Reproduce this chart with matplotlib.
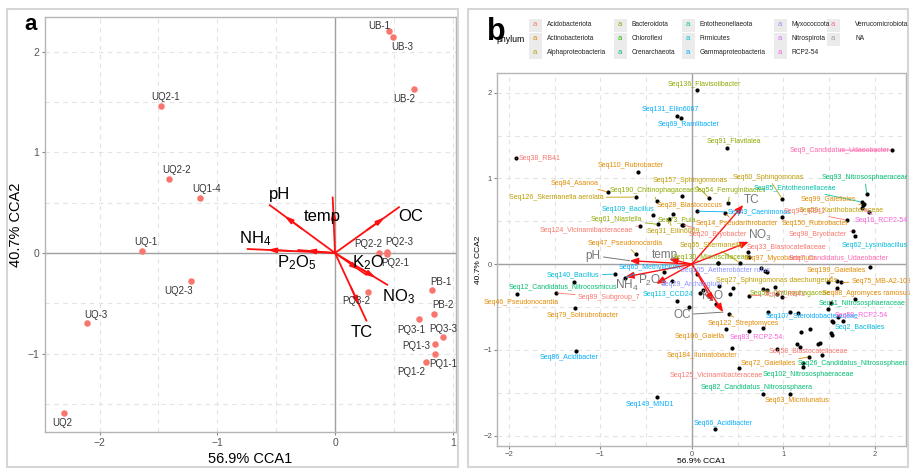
import numpy as np
import matplotlib.pyplot as plt
from matplotlib.patches import Rectangle

plt.rcParams['font.family'] = ['Liberation Sans', 'DejaVu Sans']
plt.rcParams['mathtext.default'] = 'regular'

# panel a: samples in CCA space
# ---
sample_names = ['UB-1', 'UB-3', 'UB-2', 'UQ2-1', 'UQ2-2', 'UQ1-4', 'UQ-1', 'UQ2-3', 'UQ-3', 'UQ2',
                'PQ2-2', 'PQ2-3', 'PQ2-1', 'PQ3-2', 'PB-1', 'PB-2', 'PQ3-1', 'PQ3-3', 'PQ1-3', 'PQ1-1', 'PQ1-2']
sample_x = [0.46, 0.49, 0.67, -1.48, -1.41, -1.15, -1.64, -1.22, -2.11, -2.30,
            0.37, 0.44, 0.44, 0.28, 0.82, 0.84, 0.71, 0.92, 0.85, 0.85, 0.77]
sample_y = [2.20, 2.15, 1.63, 1.46, 0.73, 0.55, 0.02, -0.28, -0.70, -1.59,
            0.00, 0.01, -0.01, -0.39, -0.37, -0.61, -0.66, -0.83, -0.90, -1.00, -1.08]
sample_lab_x = [0.38, 0.57, 0.59, -1.44, -1.35, -1.09, -1.61, -1.33, -2.03, -2.32,
                0.28, 0.55, 0.51, 0.18, 0.90, 0.92, 0.65, 0.92, 0.69, 0.92, 0.65]
sample_lab_y = [2.25, 2.05, 1.53, 1.55, 0.82, 0.64, 0.11, -0.38, -0.62, -1.69,
                0.09, 0.11, -0.10, -0.48, -0.29, -0.52, -0.76, -0.75, -0.92, -1.10, -1.18]

env_names = ['pH', 'temp', 'OC', 'NH$_4$', 'P$_2$O$_5$', 'K$_2$O', 'NO$_3$', 'TC']
env_a_x = [-0.56, -0.02, 0.55, -0.75, -0.32, 0.27, 0.45, 0.27]
env_a_y = [0.48, 0.56, 0.46, 0.04, 0.03, -0.22, -0.32, -0.68]
env_a_lab_x = [-0.47, -0.11, 0.64, -0.68, -0.33, 0.28, 0.54, 0.23]
env_a_lab_y = [0.58, 0.36, 0.36, 0.14, -0.10, -0.10, -0.43, -0.79]

# panel b: sequences (species scores)
# ---
seq_names = ['Seq136_Flavisolibacter', 'Seq131_Ellin6067', 'Seq69_Ramlibacter', 'Seq91_Flavitalea',
             'Seq9_Candidatus_Udaeobacter', 'Seq38_RB41', 'Seq110_Rubrobacter', 'Seq157_Sphingomonas',
             'Seq60_Sphingomonas', 'Seq93_Nitrososphaeraceae', 'Seq84_Asanoa', 'Seq190_Chitinophagaceae',
             'Seq126_Skermanella aerolata', 'Seq54_Ferruginibacter', 'Seq85_Entotheonellaceae', 'Seq99_Gaiellales',
             'Seq28_Blastococcus', 'Seq59_Xanthobacteraceae', 'Seq109_Bacillus', 'Seq43_Caenimonas',
             'Seq73_Puia', 'Seq61_Niastella', 'Seq124_Vicinamibacteraceae', 'Seq31_Ellin6059',
             'Seq20_Bryobacter', 'Seq14_Pseudarthrobacter', 'Seq150_Rubrobacter', 'Seq94_RB41',
             'Seq98_Bryobacter', 'Seq62_Lysinibacillus', 'Seq16_RCP2-54', 'Seq55_Skermanella',
             'Seq33_Blastocatellaceae', 'Seq97_Mycobacterium', 'Seq7_Candidatus_Udaeobacter', 'Seq130_Microscillaceae',
             'Seq105_Aetherobacter rufus', 'Seq29_Archangium', 'Seq113_CCD24', 'Seq27_Sphingomonas daechungensis',
             'Seq199_Gaiellales', 'Seq75_MB-A2-108', 'Seq52_Chitinophagaceae', 'Seq88_Agromyces ramosus',
             'Seq37_RB41', 'Seq11_Nitrososphaeraceae', 'Seq107_Steroidobacteraceae', 'Seq50_RCP2-54',
             'Seq2_Bacillales', 'Seq122_Streptomyces', 'Seq83_RCP2-54', 'Seq106_Gaiella',
             'Seq184_Ilumatobacter', 'Seq58_Blastocatellaceae', 'Seq72_Gaiellales', 'Seq26_Candidatus_Nitrososphaera',
             'Seq125_Vicinamibacteraceae', 'Seq102_Nitrososphaeraceae', 'Seq82_Candidatus_Nitrososphaera', 'Seq63_Microlunatus',
             'Seq66_Acidibacter', 'Seq149_MND1', 'Seq86_Acidibacter', 'Seq79_Solirubrobacter',
             'Seq46_Pseudonocardia', 'Seq89_Subgroup_7', 'Seq12_Candidatus_Nitrocosmicus', 'Seq140_Bacillus',
             'Seq65_Methylibium', 'Seq47_Pseudonocardia']
seq_phylum = ['Bacteroidota', 'Gammaproteobacteria', 'Gammaproteobacteria', 'Bacteroidota',
              'Verrucomicrobiota', 'Acidobacteriota', 'Actinobacteriota', 'Alphaproteobacteria',
              'Alphaproteobacteria', 'Crenarchaeota', 'Actinobacteriota', 'Bacteroidota',
              'Alphaproteobacteria', 'Bacteroidota', 'Entotheonellaeota', 'Actinobacteriota',
              'Actinobacteriota', 'Alphaproteobacteria', 'Firmicutes', 'Gammaproteobacteria',
              'Bacteroidota', 'Bacteroidota', 'Acidobacteriota', 'Alphaproteobacteria',
              'Acidobacteriota', 'Actinobacteriota', 'Actinobacteriota', 'Acidobacteriota',
              'Acidobacteriota', 'Firmicutes', 'RCP2-54', 'Alphaproteobacteria',
              'Acidobacteriota', 'Actinobacteriota', 'Verrucomicrobiota', 'Bacteroidota',
              'Myxococcota', 'Myxococcota', 'Firmicutes', 'Alphaproteobacteria',
              'Actinobacteriota', 'Actinobacteriota', 'Bacteroidota', 'Actinobacteriota',
              'Acidobacteriota', 'Crenarchaeota', 'Gammaproteobacteria', 'RCP2-54',
              'Firmicutes', 'Actinobacteriota', 'RCP2-54', 'Actinobacteriota',
              'Actinobacteriota', 'Acidobacteriota', 'Actinobacteriota', 'Crenarchaeota',
              'Acidobacteriota', 'Crenarchaeota', 'Crenarchaeota', 'Actinobacteriota',
              'Gammaproteobacteria', 'Gammaproteobacteria', 'Gammaproteobacteria', 'Actinobacteriota',
              'Actinobacteriota', 'Acidobacteriota', 'Crenarchaeota', 'Firmicutes',
              'Gammaproteobacteria', 'Actinobacteriota']
seq_x = [0.058, -0.167, -0.120, 0.379, 2.186, -1.923, -0.587, 0.189,
         0.987, 1.909, -0.915, -0.386, -0.615, 0.397, 1.858, 1.869,
         -0.113, 1.938, -0.423, 0.058, -0.204, -0.368, -0.565, -0.253,
         -0.102, 0.361, 0.980, 1.691, 1.756, 1.781, 1.863, 0.525,
         0.615, 0.626, 1.945, 0.287, 0.823, 0.298, -0.167, 0.910,
         1.483, 1.632, 0.816, 1.581, 0.626, 1.516, 0.834, 1.599,
         1.654, 0.404, 0.626, 0.368, 0.440, 0.926, 1.282, 1.210,
         0.517, 1.210, 0.779, 1.071, 0.251, -0.386, -1.268, -1.279,
         -1.916, -1.486, -1.286, -0.842, -0.732, -0.615]
seq_y = [2.027, 1.730, 1.704, 1.357, 1.330, 1.233, 1.073, 0.774,
         0.758, 0.813, 0.840, 0.739, 0.782, 0.708, 0.723, 0.688,
         0.793, 0.610, 0.575, 0.618, 0.587, 0.463, 0.447, 0.523,
         0.459, 0.592, 0.552, 0.513, 0.385, 0.327, 0.653, 0.016,
         0.144, 0.082, -0.039, 0.008, -0.097, -0.253, -0.432, -0.265,
         -0.214, -0.214, -0.303, -0.277, -0.370, -0.459, -0.564, -0.622,
         -0.665, -0.583, -0.778, -0.762, -0.977, -0.984, -1.082, -1.148,
         -1.217, -1.195, -1.509, -1.509, -1.925, -1.555, -1.012, -0.517,
         -0.354, -0.335, -0.207, -0.117, -0.160, 0.113]
seq_lab_x = [0.131, -0.240, -0.040, 0.459, 1.610, -1.661, -0.670, -0.022,
             0.834, 1.891, -1.286, -0.437, -1.486, 0.415, 1.126, 1.490,
             -0.022, 1.636, -0.696, 0.743, -0.167, -0.823, -1.151, -0.204,
             0.287, 0.489, 1.344, 1.235, 1.380, 2.000, 2.073, 0.215,
             1.035, 0.962, 1.599, 0.208, 0.361, -0.003, -0.259, 0.926,
             1.581, 2.073, 1.071, 1.909, 1.016, 1.855, 1.308, 1.855,
             1.836, 0.561, 0.707, 0.087, 0.106, 1.271, 0.834, 1.763,
             0.270, 1.271, 0.707, 1.144, 0.335, -0.459, -1.341, -1.195,
             -1.861, -0.904, -1.407, -1.297, -0.459, -0.725]
seq_lab_y = [2.097, 1.805, 1.630, 1.427, 1.330, 1.233, 1.147, 0.980,
             1.012, 1.007, 0.945, 0.855, 0.778, 0.855, 0.887, 0.758,
             0.688, 0.630, 0.642, 0.599, 0.513, 0.522, 0.389, 0.377,
             0.350, 0.475, 0.475, 0.610, 0.347, 0.222, 0.505, 0.222,
             0.190, 0.066, 0.066, 0.082, -0.078, -0.237, -0.354, -0.195,
             -0.070, -0.198, -0.342, -0.342, -0.350, -0.459, -0.607, -0.595,
             -0.743, -0.692, -0.860, -0.840, -1.062, -1.015, -1.159, -1.159,
             -1.295, -1.287, -1.439, -1.587, -1.859, -1.634, -1.089, -0.595,
             -0.447, -0.393, -0.277, -0.128, -0.039, 0.242]

# sequences plotted without a label
other_x = [-0.303, -0.222, 0.051, 0.124, 0.087, 0.451, 0.415, -0.033, 0.259, 0.980,
           1.781, 1.483, 1.071, 1.158, 1.527, 1.538, 0.773, 1.188, 1.290, 1.516,
           1.527, 1.144, 1.180, 1.380, 1.399, 1.417, 1.581, 0.798, 0.287, 0.749,
           -0.113, 1.880, 0.773, 0.924]
other_y = [-0.097, -0.198, -0.117, -0.303, -0.335, -0.277, -0.350, -0.498, -0.470, -0.389,
           -0.408, -0.525, -0.564, -0.568, -0.662, -0.673, -0.743, -0.797, -0.762, -0.802,
           -0.828, -0.933, -0.965, -0.933, -0.918, -1.062, -0.198, -0.082, 0.008, -0.040,
           0.455, 0.700, -0.290, -0.345]

env_b_x = [-0.68, -0.25, 0.34, -0.73, -0.39, 0.23, 0.62, 0.56]
env_b_y = [0.04, 0.06, -0.56, -0.15, -0.23, -0.44, 0.26, 0.69]
env_b_lab_x = [-1.08, -0.30, -0.11, -0.71, -0.44, 0.23, 0.74, 0.65]
env_b_lab_y = [0.10, 0.11, -0.59, -0.25, -0.19, -0.38, 0.33, 0.75]

phyla = ['Acidobacteriota', 'Actinobacteriota', 'Alphaproteobacteria', 'Bacteroidota', 'Chloroflexi',
         'Crenarchaeota', 'Entotheonellaeota', 'Firmicutes', 'Gammaproteobacteria', 'Myxococcota',
         'Nitrospirota', 'RCP2-54', 'Verrucomicrobiota', 'NA']
phylum_colors = ['#F8766D', '#E18A00', '#BE9C00', '#8CAB00', '#24B700', '#00BE70', '#00C1AB',
                 '#00BBDA', '#00ACFC', '#8B93FF', '#D575FE', '#F962DD', '#FF65AC', '#9E9E9E']
pcol = dict(zip(phyla, phylum_colors))

W, H = 910, 470


def fx(px):
    return px / W


def fy(py):
    return 1 - py / H


def style_axes(ax, fs):
    for s in ax.spines.values():
        s.set_color('#b5b5b5')
        s.set_linewidth(1.0)
    ax.tick_params(which='major', length=2.5, color='#888888', labelsize=fs, labelcolor='#555555', pad=1.5)
    ax.tick_params(which='minor', length=0)
    ax.grid(which='both', color='#e3e3e3', ls=(0, (4, 4)), lw=0.8)
    ax.set_axisbelow(True)
    ax.axhline(0, color='#a0a0a0', lw=1.0, zorder=1)
    ax.axvline(0, color='#a0a0a0', lw=1.0, zorder=1)


fig = plt.figure(figsize=(9.1, 4.7), dpi=100)

# outer frames
fig.add_artist(Rectangle((fx(7), fy(467)), fx(451), 458 / H, transform=fig.transFigure,
                         fill=False, ec='#d6d6d6', lw=1.5))
fig.add_artist(Rectangle((fx(468), fy(467)), fx(440), 458 / H, transform=fig.transFigure,
                         fill=False, ec='#d6d6d6', lw=1.5))

# ---- panel a ----
ax = fig.add_axes([fx(45), fy(432), fx(411), 415 / H])
ax.set_xlim(-2.464, 1.028)
ax.set_ylim(-1.778, 2.344)
ax.set_xticks([-2, -1, 0, 1])
ax.set_xticks([-1.5, -0.5, 0.5], minor=True)
ax.set_yticks([-1, 0, 1, 2])
ax.set_yticks([-1.5, -0.5, 0.5, 1.5], minor=True)
style_axes(ax, 7.5)

ax.scatter(sample_x, sample_y, s=22, color='#F8766D', zorder=3, lw=0)
for n, lx, ly in zip(sample_names, sample_lab_x, sample_lab_y):
    ax.text(lx, ly, n, fontsize=7, color='#333333', ha='center', va='center', zorder=4)

for ex, ey in zip(env_a_x, env_a_y):
    ax.plot([0, ex], [0, ey], color='#FF1010', lw=1.3, zorder=3, solid_capstyle='butt')
    ax.annotate('', xy=(0.77 * ex, 0.77 * ey), xytext=(0.5 * ex, 0.5 * ey),
                arrowprops=dict(arrowstyle='-|>,head_length=0.5,head_width=0.14', color='#FF1010',
                                lw=1.3, shrinkA=0, shrinkB=0), zorder=3)
for n, lx, ly in zip(env_names, env_a_lab_x, env_a_lab_y):
    ax.text(lx, ly, n, fontsize=12, color='black', ha='center', va='center', zorder=4)

ax.set_xlabel('56.9% CCA1', fontsize=10.5, labelpad=3)
ax.set_ylabel('40.7% CCA2', fontsize=10.5, labelpad=3)
fig.text(fx(24), fy(30), 'a', fontsize=16, fontweight='bold', va='baseline')

# ---- panel b ----
bx = fig.add_axes([fx(497), fy(446), fx(409), 373 / H])
bx.set_xlim(-2.131, 2.339)
bx.set_ylim(-2.121, 2.229)
bx.set_xticks([-2, -1, 0, 1, 2])
bx.set_xticks([-1.5, -0.5, 0.5, 1.5], minor=True)
bx.set_yticks([-2, -1, 0, 1, 2])
bx.set_yticks([-1.5, -0.5, 0.5, 1.5], minor=True)
style_axes(bx, 5.5)
bx.tick_params(which='major', pad=1)

bx.scatter(seq_x + other_x, seq_y + other_y, s=9, color='black', zorder=3, lw=0)

for ex, ey in zip(env_b_x, env_b_y):
    bx.annotate('', xy=(ex, ey), xytext=(0, 0),
                arrowprops=dict(arrowstyle='-|>,head_length=0.5,head_width=0.2', color='#FF1010',
                                lw=1.0, shrinkA=0, shrinkB=0), zorder=3)
for n, lx, ly, ex, ey in zip(env_names, env_b_lab_x, env_b_lab_y, env_b_x, env_b_y):
    far = np.hypot((lx - ex) * 91.5, (ly - ey) * 85.7) > 25
    bx.annotate(n, xy=(ex, ey), xytext=(lx, ly), fontsize=8.5, color='#777777',
                ha='center', va='center', zorder=4,
                arrowprops=dict(arrowstyle='-', color='#777777', lw=0.7, shrinkA=0, shrinkB=0) if far else None)

for n, ph, x, y, lx, ly in zip(seq_names, seq_phylum, seq_x, seq_y, seq_lab_x, seq_lab_y):
    c = pcol[ph]
    dxp = abs(lx - x) * 91.5
    dyp = abs(ly - y) * 85.7
    far = dxp > len(n) * 1.7 + 5 or dyp > 9
    bx.annotate(n, xy=(x, y), xytext=(lx, ly), fontsize=5, color=c, ha='center', va='center', zorder=4,
                arrowprops=dict(arrowstyle='-', color=c, lw=0.6, shrinkA=0, shrinkB=1) if far else None)

bx.set_xlabel('56.9% CCA1', fontsize=6, labelpad=0)
bx.set_ylabel('40.7% CCA2', fontsize=6, labelpad=1)
fig.text(fx(487), fy(40), 'b', fontsize=22, fontweight='bold', va='baseline')

# legend drawn by hand, ggplot-like text keys
fig.text(fx(496), fy(40), 'phylum', fontsize=6.3, va='center')
key_cols = [535, 620, 688, 780, 833]
text_cols = [547, 632, 700, 792, 855]
rows = [25, 39, 53]
for i, (ph, c) in enumerate(zip(phyla, phylum_colors)):
    col, row = divmod(i, 3)
    kx, ky = key_cols[col], rows[row]
    fig.add_artist(Rectangle((fx(kx - 6.5), fy(ky + 6.5)), 13 / W, 13 / H, transform=fig.transFigure,
                             fc='#ebebeb', ec='none'))
    fig.text(fx(kx), fy(ky), 'a', fontsize=5.5, color=c, ha='center', va='center')
    fig.text(fx(text_cols[col]), fy(ky), ph, fontsize=4.8, color='#222222', va='center')

fig.savefig('out.png', dpi=100)
